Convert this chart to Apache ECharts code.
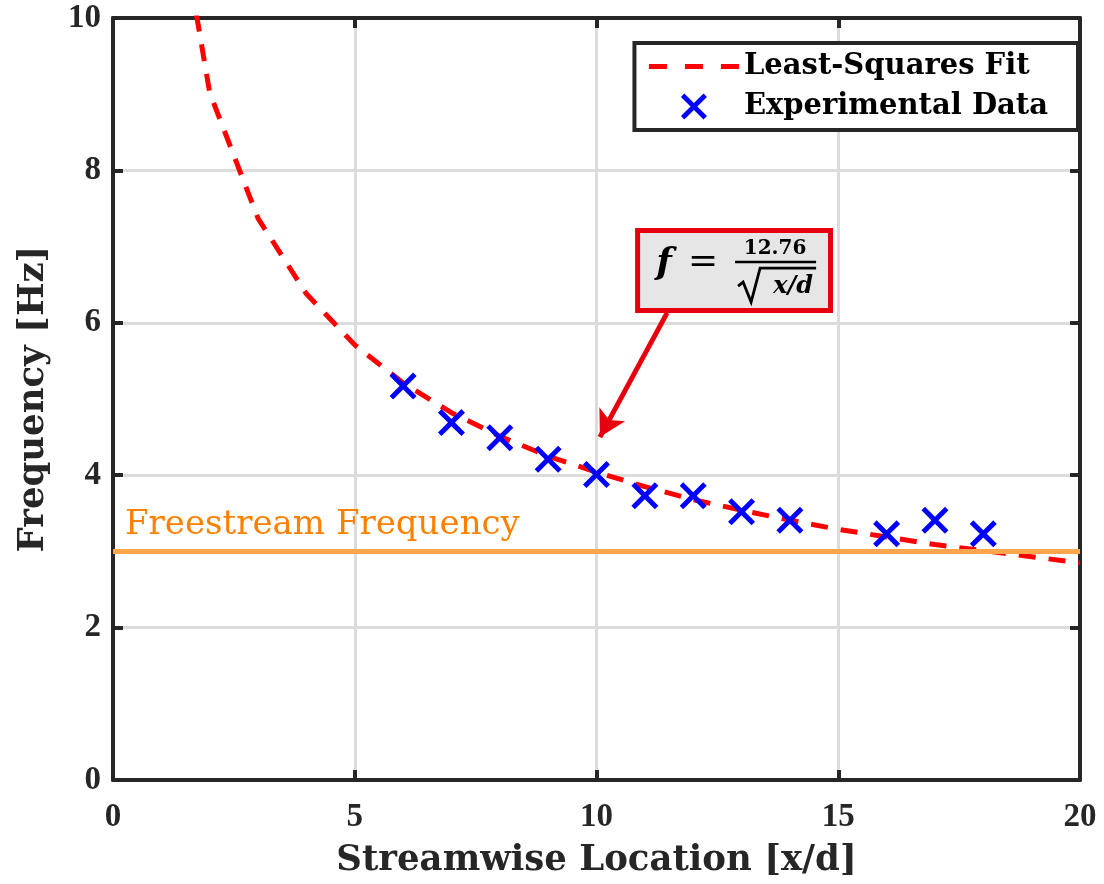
<!DOCTYPE html>
<html>
<head>
<meta charset="utf-8">
<title>Frequency vs Streamwise Location</title>
<script src="https://cdn.jsdelivr.net/npm/echarts@6/dist/echarts.min.js"></script>
<style>
  html, body { margin: 0; padding: 0; background: #ffffff; }
  #chart { width: 1104px; height: 884px; }
</style>
</head>
<body>
<div id="chart"></div>
<script>
// Least-squares fit f = 12.76 / sqrt(x/d), tabulated at integer stations
const fitX = [1, 2, 3, 4, 5, 6, 7, 8, 9, 10, 11, 12, 13, 14, 15, 16, 17, 18, 19, 20];
const fitY = [12.76, 9.02, 7.37, 6.38, 5.71, 5.21, 4.82, 4.51, 4.25, 4.04,
              3.85, 3.68, 3.54, 3.41, 3.29, 3.19, 3.09, 3.01, 2.93, 2.85];

// Measured shedding frequency
const expX = [6, 7, 8, 9, 10, 11, 12, 13, 14, 16, 17, 18];
const expY = [5.17, 4.69, 4.49, 4.21, 4.01, 3.73, 3.73, 3.52, 3.41, 3.23, 3.41, 3.23];

// Freestream reference frequency
const freestreamFreq = 3;

// Annotation: box corners and arrow endpoints in data units
const noteBox = [[10.85, 7.21], [14.84, 6.16]];
const noteArrow = [[11.46, 6.13], [10.07, 4.50]];

const xTicks = { min: 0, max: 20, interval: 5 };
const yTicks = { min: 0, max: 10, interval: 2 };

const AXIS = '#262626';
const GRID = '#dcdcdc';
const RED = '#ff0000';
const NOTE_RED = '#e6000f';
const BLUE = '#0000ff';
const ORANGE_LINE = '#ffa64d';
const ORANGE_TEXT = '#ff8000';
const TITLE_FONT = "'DejaVu Serif', serif";
const TICK_FONT = "'Liberation Serif', serif";

// Cross marker drawn as a filled outline so the stroke weight stays fixed
const CROSS = 'path://M0,13L13,0L50,37L87,0L100,13L63,50L100,87L87,100L50,63L13,100L0,87L37,50Z';

const chart = echarts.init(document.getElementById('chart'), null, { renderer: 'canvas' });

function axisBase(t, showLabel) {
  return {
    type: 'value',
    min: t.min, max: t.max, interval: t.interval,
    axisLine: { show: true, onZero: false, lineStyle: { color: AXIS, width: 4 } },
    axisTick: { show: true, inside: true, length: 10, lineStyle: { color: AXIS, width: 4 } },
    axisLabel: {
      show: showLabel,
      fontFamily: TICK_FONT, fontWeight: 'bold', fontSize: 33, color: AXIS
    }
  };
}

const xMain = Object.assign(axisBase(xTicks, true), {
  position: 'bottom',
  splitLine: { show: true, lineStyle: { color: GRID, width: 3 } },
  name: 'Streamwise Location [x/d]',
  nameLocation: 'middle',
  nameGap: 63,
  nameTextStyle: { fontFamily: TITLE_FONT, fontWeight: 'bold', fontSize: 35.5, color: AXIS }
});
xMain.axisLabel.margin = 21;

const xTop = Object.assign(axisBase(xTicks, false), {
  position: 'top', splitLine: { show: false }
});

const yMain = Object.assign(axisBase(yTicks, true), {
  position: 'left',
  splitLine: { show: true, lineStyle: { color: GRID, width: 3 } },
  name: 'Frequency [Hz]',
  nameLocation: 'middle',
  nameGap: 61,
  nameTextStyle: { fontFamily: TITLE_FONT, fontWeight: 'bold', fontSize: 35.5, color: AXIS }
});
yMain.axisLabel.margin = 12;

const yRight = Object.assign(axisBase(yTicks, false), {
  position: 'right', splitLine: { show: false }
});

const option = {
  backgroundColor: '#ffffff',
  animation: false,
  grid: { left: 113, right: 24, top: 18, bottom: 104, containLabel: false },
  xAxis: [xMain, xTop],
  yAxis: [yMain, yRight],
  legend: {
    orient: 'vertical',
    right: 26,
    top: 43,
    itemWidth: 90,
    itemHeight: 26,
    itemGap: 11,
    padding: [9, 30, 9, 12],
    borderColor: AXIS,
    borderWidth: 4,
    backgroundColor: '#ffffff',
    lineStyle: { width: 5, type: [18, 18] },
    textStyle: {
      fontFamily: TITLE_FONT, fontWeight: 'bold', fontSize: 29, color: '#000000', lineHeight: 28
    },
    data: [
      { name: 'Least-Squares Fit', itemStyle: { opacity: 0 } },
      { name: 'Experimental Data' }
    ]
  },
  series: [
    {
      name: 'Least-Squares Fit',
      type: 'line',
      xAxisIndex: 0, yAxisIndex: 0,
      data: fitX.map((x, i) => [x, fitY[i]]),
      showSymbol: false,
      symbol: 'none',
      clip: true,
      lineStyle: { color: RED, width: 5, type: [17, 13] },
      itemStyle: { color: RED },
      z: 2,
      markLine: {
        silent: true,
        animation: false,
        symbol: ['none', 'arrow'],
        symbolSize: [22, 26],
        label: { show: false },
        lineStyle: { color: NOTE_RED, width: 5, type: 'solid' },
        data: [[
          { coord: noteArrow[0] },
          { coord: noteArrow[1] }
        ]]
      }
    },
    {
      name: 'Experimental Data',
      type: 'scatter',
      xAxisIndex: 0, yAxisIndex: 0,
      data: expX.map((x, i) => [x, expY[i]]),
      symbol: CROSS,
      symbolSize: 27,
      itemStyle: { color: BLUE, opacity: 1 },
      z: 4
    },
    {
      name: 'Freestream',
      type: 'line',
      xAxisIndex: 0, yAxisIndex: 0,
      data: [],
      z: 3,
      markLine: {
        silent: true,
        animation: false,
        symbol: ['none', 'none'],
        lineStyle: { color: ORANGE_LINE, width: 5, type: 'solid' },
        label: {
          show: true,
          position: 'insideStartTop',
          formatter: 'Freestream Frequency',
          fontFamily: TITLE_FONT, fontSize: 34, color: ORANGE_TEXT,
          distance: [12, 9]
        },
        data: [{ yAxis: freestreamFreq }]
      }
    }
  ]
};

chart.setOption(option);

// Equation call-out, anchored to the data coordinates of its box
function drawNote() {
  const p0 = chart.convertToPixel({ xAxisIndex: 0, yAxisIndex: 0 }, noteBox[0]);
  const p1 = chart.convertToPixel({ xAxisIndex: 0, yAxisIndex: 0 }, noteBox[1]);
  const bx = p0[0], by = p0[1];
  const bw = p1[0] - p0[0], bh = p1[1] - p0[1];
  const ox = bx - 2.5, oy = by - 2.5;  // outer edge of the border
  const black = '#000000';
  chart.setOption({
    graphic: [{
      type: 'group',
      z: 100,
      children: [
        {
          type: 'rect',
          shape: { x: bx, y: by, width: bw, height: bh },
          style: { fill: '#e6e6e6', stroke: NOTE_RED, lineWidth: 5 }
        },
        {
          type: 'text',
          x: ox + 29, y: oy + 36,
          style: {
            text: 'f', fill: black, fontFamily: TITLE_FONT, fontStyle: 'italic',
            fontWeight: 'bold', fontSize: 36, align: 'center', verticalAlign: 'middle'
          }
        },
        {
          type: 'text',
          x: ox + 68, y: oy + 35,
          style: {
            text: '=', fill: black, fontFamily: TITLE_FONT, fontWeight: 'normal',
            fontSize: 36, align: 'center', verticalAlign: 'middle'
          }
        },
        {
          type: 'text',
          x: ox + 140, y: oy + 21,
          style: {
            text: '12.76', fill: black, fontFamily: TITLE_FONT, fontWeight: 'bold',
            fontSize: 20, align: 'center', verticalAlign: 'middle'
          }
        },
        {
          type: 'line',
          shape: { x1: ox + 100, y1: oy + 34, x2: ox + 181, y2: oy + 34 },
          style: { stroke: black, lineWidth: 2.5 }
        },
        {
          type: 'polyline',
          shape: {
            points: [
              [ox + 103, oy + 58], [ox + 108, oy + 54], [ox + 116, oy + 74],
              [ox + 125, oy + 40], [ox + 181, oy + 40]
            ]
          },
          style: { stroke: black, lineWidth: 2.8, fill: null }
        },
        {
          type: 'text',
          x: ox + 158, y: oy + 59,
          style: {
            text: 'x/d', fill: black, fontFamily: TITLE_FONT, fontStyle: 'italic',
            fontWeight: 'bold', fontSize: 24, align: 'center', verticalAlign: 'middle'
          }
        }
      ]
    }]
  });
}
drawNote();
</script>
</body>
</html>
